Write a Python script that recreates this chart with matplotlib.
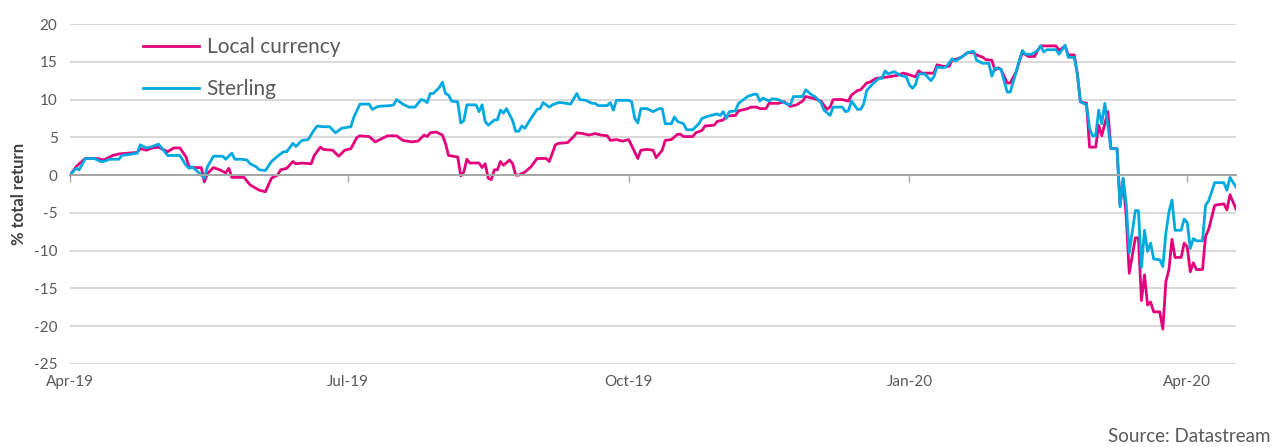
#!/usr/bin/env python3
"""
Total return, local currency vs sterling, Apr-19 to Apr-20.
"""

import matplotlib
matplotlib.use('Agg')
import matplotlib.pyplot as plt
import pandas as pd

plt.rcParams['font.family'] = ['Lato', 'DejaVu Sans']
plt.rcParams['axes.unicode_minus'] = False

# Data
local_dates = [
	'2019-04-01', '2019-04-03', '2019-04-04', '2019-04-06', '2019-04-10', '2019-04-12', '2019-04-14', '2019-04-15',
	'2019-04-17', '2019-04-20', '2019-04-23', '2019-04-24', '2019-04-26', '2019-04-28', '2019-04-30', '2019-05-02',
	'2019-05-03', '2019-05-05', '2019-05-07', '2019-05-09', '2019-05-10', '2019-05-11', '2019-05-14', '2019-05-15',
	'2019-05-16', '2019-05-18', '2019-05-20', '2019-05-22', '2019-05-23', '2019-05-24', '2019-05-26', '2019-05-28',
	'2019-05-30', '2019-06-02', '2019-06-04', '2019-06-06', '2019-06-08', '2019-06-09', '2019-06-11', '2019-06-13',
	'2019-06-14', '2019-06-16', '2019-06-19', '2019-06-20', '2019-06-22', '2019-06-23', '2019-06-26', '2019-06-28',
	'2019-06-30', '2019-07-02', '2019-07-04', '2019-07-05', '2019-07-08', '2019-07-10', '2019-07-12', '2019-07-14',
	'2019-07-17', '2019-07-19', '2019-07-22', '2019-07-24', '2019-07-26', '2019-07-27', '2019-07-28', '2019-07-30',
	'2019-08-01', '2019-08-02', '2019-08-03', '2019-08-06', '2019-08-07', '2019-08-08', '2019-08-09', '2019-08-10',
	'2019-08-13', '2019-08-14', '2019-08-15', '2019-08-16', '2019-08-17', '2019-08-18', '2019-08-19', '2019-08-20',
	'2019-08-21', '2019-08-23', '2019-08-24', '2019-08-25', '2019-08-26', '2019-08-28', '2019-08-30', '2019-09-01',
	'2019-09-04', '2019-09-05', '2019-09-07', '2019-09-08', '2019-09-11', '2019-09-13', '2019-09-14', '2019-09-16',
	'2019-09-18', '2019-09-20', '2019-09-22', '2019-09-24', '2019-09-25', '2019-09-27', '2019-09-29', '2019-10-01',
	'2019-10-02', '2019-10-04', '2019-10-05', '2019-10-07', '2019-10-09', '2019-10-10', '2019-10-12', '2019-10-13',
	'2019-10-15', '2019-10-17', '2019-10-18', '2019-10-19', '2019-10-22', '2019-10-23', '2019-10-25', '2019-10-26',
	'2019-10-29', '2019-10-30', '2019-11-01', '2019-11-02', '2019-11-05', '2019-11-06', '2019-11-09', '2019-11-10',
	'2019-11-12', '2019-11-13', '2019-11-15', '2019-11-16', '2019-11-19', '2019-11-21', '2019-11-23', '2019-11-25',
	'2019-11-27', '2019-11-28', '2019-11-30', '2019-12-01', '2019-12-03', '2019-12-05', '2019-12-06', '2019-12-07',
	'2019-12-10', '2019-12-12', '2019-12-13', '2019-12-15', '2019-12-16', '2019-12-18', '2019-12-19', '2019-12-21',
	'2019-12-23', '2019-12-25', '2019-12-28', '2019-12-30', '2019-12-31', '2020-01-03', '2020-01-04', '2020-01-05',
	'2020-01-09', '2020-01-10', '2020-01-12', '2020-01-14', '2020-01-15', '2020-01-16', '2020-01-18', '2020-01-20',
	'2020-01-22', '2020-01-23', '2020-01-25', '2020-01-26', '2020-01-28', '2020-01-29', '2020-01-30', '2020-01-31',
	'2020-02-02', '2020-02-03', '2020-02-05', '2020-02-06', '2020-02-07', '2020-02-09', '2020-02-11', '2020-02-12',
	'2020-02-13', '2020-02-15', '2020-02-18', '2020-02-19', '2020-02-21', '2020-02-22', '2020-02-24', '2020-02-25',
	'2020-02-26', '2020-02-28', '2020-02-29', '2020-03-02', '2020-03-03', '2020-03-04', '2020-03-06', '2020-03-07',
	'2020-03-09', '2020-03-10', '2020-03-11', '2020-03-12', '2020-03-13', '2020-03-15', '2020-03-16', '2020-03-17',
	'2020-03-18', '2020-03-19', '2020-03-20', '2020-03-21', '2020-03-23', '2020-03-24', '2020-03-25', '2020-03-26',
	'2020-03-27', '2020-03-28', '2020-03-30', '2020-03-31', '2020-04-01', '2020-04-02', '2020-04-03', '2020-04-04',
	'2020-04-06', '2020-04-07', '2020-04-08', '2020-04-10', '2020-04-13', '2020-04-14', '2020-04-15', '2020-04-17',
]
local_values = [
	0.0, 1.1, 1.5, 2.2, 2.2, 2.0, 2.4, 2.6,
	2.8, 2.9, 3.0, 3.5, 3.3, 3.6, 3.7, 3.3,
	3.1, 3.6, 3.6, 2.4, 1.1, 1.0, 1.0, -0.9,
	0.2, 1.0, 0.7, 0.3, 0.9, -0.3, -0.3, -0.3,
	-1.3, -2.0, -2.2, -0.4, 0.0, 0.7, 0.9, 1.8,
	1.5, 1.6, 1.5, 2.6, 3.7, 3.4, 3.3, 2.5,
	3.3, 3.5, 5.0, 5.2, 5.1, 4.4, 4.8, 5.2,
	5.2, 4.6, 4.4, 4.5, 5.3, 5.1, 5.6, 5.7,
	5.3, 4.2, 2.6, 2.4, -0.1, 0.4, 2.1, 1.6,
	1.6, 1.0, 1.5, -0.4, -0.6, 0.7, 0.7, 1.8,
	1.3, 2.0, 1.5, 0.0, 0.0, 0.4, 1.1, 2.2,
	2.2, 1.8, 4.0, 4.2, 4.3, 5.1, 5.6, 5.5,
	5.3, 5.5, 5.3, 5.2, 4.6, 4.7, 4.5, 4.7,
	3.9, 2.2, 3.3, 3.4, 3.3, 2.3, 3.3, 4.6,
	4.7, 5.4, 5.4, 5.1, 5.1, 5.6, 5.9, 6.5,
	6.6, 7.1, 7.3, 7.8, 7.9, 8.5, 8.8, 9.0,
	9.0, 8.8, 8.8, 9.5, 9.5, 9.7, 9.1, 9.3,
	9.8, 10.4, 10.2, 10.1, 9.8, 8.7, 9.0, 10.0,
	10.0, 9.8, 10.6, 11.2, 11.3, 12.2, 12.3, 12.8,
	12.9, 13.0, 13.2, 13.5, 13.4, 13.0, 13.8, 13.5,
	13.5, 14.6, 14.4, 14.4, 15.3, 15.3, 15.6, 16.2,
	16.2, 15.9, 15.6, 15.3, 15.2, 13.9, 14.2, 14.0,
	12.2, 12.2, 13.7, 15.1, 16.2, 15.7, 15.7, 16.5,
	17.1, 17.1, 17.1, 16.5, 17.1, 15.9, 15.9, 13.4,
	9.7, 9.5, 3.7, 3.7, 6.6, 5.2, 8.4, 3.5,
	3.5, -4.0, -0.6, -5.5, -13.0, -8.3, -8.3, -16.6,
	-13.2, -17.2, -16.8, -18.1, -18.1, -20.4, -14.1, -12.5,
	-8.5, -10.9, -10.9, -9.0, -9.5, -12.8, -11.6, -12.5,
	-12.5, -8.1, -7.2, -4.0, -3.8, -4.6, -2.6, -4.5,
]

sterling_dates = [
	'2019-04-01', '2019-04-03', '2019-04-04', '2019-04-06', '2019-04-09', '2019-04-11', '2019-04-12', '2019-04-14',
	'2019-04-17', '2019-04-18', '2019-04-23', '2019-04-24', '2019-04-26', '2019-04-28', '2019-04-30', '2019-05-03',
	'2019-05-05', '2019-05-07', '2019-05-09', '2019-05-10', '2019-05-11', '2019-05-13', '2019-05-15', '2019-05-16',
	'2019-05-18', '2019-05-21', '2019-05-22', '2019-05-24', '2019-05-25', '2019-05-27', '2019-05-29', '2019-05-30',
	'2019-06-01', '2019-06-02', '2019-06-04', '2019-06-06', '2019-06-08', '2019-06-10', '2019-06-11', '2019-06-13',
	'2019-06-14', '2019-06-16', '2019-06-18', '2019-06-20', '2019-06-21', '2019-06-23', '2019-06-25', '2019-06-27',
	'2019-06-29', '2019-07-02', '2019-07-03', '2019-07-05', '2019-07-08', '2019-07-09', '2019-07-11', '2019-07-15',
	'2019-07-16', '2019-07-17', '2019-07-19', '2019-07-21', '2019-07-23', '2019-07-25', '2019-07-26', '2019-07-27',
	'2019-07-28', '2019-07-29', '2019-07-31', '2019-08-01', '2019-08-02', '2019-08-03', '2019-08-04', '2019-08-06',
	'2019-08-07', '2019-08-08', '2019-08-09', '2019-08-12', '2019-08-13', '2019-08-14', '2019-08-15', '2019-08-16',
	'2019-08-18', '2019-08-19', '2019-08-20', '2019-08-21', '2019-08-22', '2019-08-24', '2019-08-25', '2019-08-26',
	'2019-08-27', '2019-08-28', '2019-08-30', '2019-09-01', '2019-09-02', '2019-09-03', '2019-09-05', '2019-09-06',
	'2019-09-08', '2019-09-09', '2019-09-12', '2019-09-13', '2019-09-14', '2019-09-15', '2019-09-17', '2019-09-19',
	'2019-09-20', '2019-09-21', '2019-09-24', '2019-09-25', '2019-09-26', '2019-09-27', '2019-10-01', '2019-10-02',
	'2019-10-03', '2019-10-04', '2019-10-05', '2019-10-07', '2019-10-09', '2019-10-11', '2019-10-12', '2019-10-13',
	'2019-10-15', '2019-10-16', '2019-10-17', '2019-10-19', '2019-10-20', '2019-10-22', '2019-10-24', '2019-10-25',
	'2019-10-27', '2019-10-30', '2019-10-31', '2019-11-01', '2019-11-02', '2019-11-03', '2019-11-05', '2019-11-06',
	'2019-11-09', '2019-11-11', '2019-11-12', '2019-11-13', '2019-11-14', '2019-11-16', '2019-11-17', '2019-11-19',
	'2019-11-20', '2019-11-22', '2019-11-23', '2019-11-24', '2019-11-27', '2019-11-28', '2019-11-30', '2019-12-01',
	'2019-12-03', '2019-12-04', '2019-12-06', '2019-12-07', '2019-12-10', '2019-12-11', '2019-12-12', '2019-12-13',
	'2019-12-15', '2019-12-16', '2019-12-17', '2019-12-18', '2019-12-20', '2019-12-22', '2019-12-23', '2019-12-24',
	'2019-12-25', '2019-12-27', '2019-12-29', '2019-12-31', '2020-01-01', '2020-01-02', '2020-01-03', '2020-01-04',
	'2020-01-06', '2020-01-08', '2020-01-09', '2020-01-10', '2020-01-12', '2020-01-13', '2020-01-15', '2020-01-16',
	'2020-01-18', '2020-01-20', '2020-01-22', '2020-01-23', '2020-01-25', '2020-01-27', '2020-01-28', '2020-01-29',
	'2020-01-31', '2020-02-02', '2020-02-03', '2020-02-05', '2020-02-06', '2020-02-07', '2020-02-08', '2020-02-10',
	'2020-02-12', '2020-02-13', '2020-02-14', '2020-02-15', '2020-02-18', '2020-02-19', '2020-02-21', '2020-02-22',
	'2020-02-24', '2020-02-25', '2020-02-26', '2020-02-28', '2020-02-29', '2020-03-01', '2020-03-02', '2020-03-03',
	'2020-03-04', '2020-03-05', '2020-03-07', '2020-03-09', '2020-03-10', '2020-03-11', '2020-03-12', '2020-03-13',
	'2020-03-15', '2020-03-16', '2020-03-17', '2020-03-18', '2020-03-19', '2020-03-20', '2020-03-21', '2020-03-23',
	'2020-03-24', '2020-03-25', '2020-03-26', '2020-03-27', '2020-03-28', '2020-03-30', '2020-03-31', '2020-04-01',
	'2020-04-02', '2020-04-03', '2020-04-04', '2020-04-06', '2020-04-07', '2020-04-08', '2020-04-10', '2020-04-13',
	'2020-04-14', '2020-04-15', '2020-04-17',
]
sterling_values = [
	0.0, 0.9, 0.7, 2.2, 2.2, 1.8, 1.8, 2.1,
	2.1, 2.6, 2.9, 4.0, 3.6, 3.8, 4.1, 2.6,
	2.6, 2.6, 1.3, 0.9, 1.1, 0.4, -0.4, 1.1,
	2.5, 2.5, 2.1, 2.9, 2.1, 2.1, 2.0, 1.5,
	1.1, 0.7, 0.6, 1.8, 2.5, 3.1, 3.1, 4.2,
	3.8, 4.6, 4.7, 6.0, 6.5, 6.4, 6.4, 5.6,
	6.2, 6.4, 7.7, 9.4, 9.4, 8.7, 9.1, 9.2,
	9.3, 10.0, 9.4, 9.0, 9.0, 10.0, 9.9, 9.6,
	10.8, 10.8, 11.6, 12.3, 10.8, 10.6, 9.8, 9.7,
	6.9, 7.2, 9.3, 9.3, 8.4, 9.3, 7.1, 6.6,
	7.3, 7.3, 8.6, 8.2, 8.8, 7.2, 5.8, 5.8,
	6.5, 6.2, 7.5, 8.7, 8.8, 9.6, 9.0, 9.3,
	9.6, 9.6, 9.4, 10.1, 10.8, 10.0, 9.9, 9.5,
	9.5, 9.2, 9.2, 9.6, 8.6, 9.9, 9.9, 9.7,
	7.5, 6.9, 8.8, 8.8, 8.4, 8.8, 8.8, 6.8,
	6.8, 7.7, 7.1, 6.8, 6.0, 6.0, 6.8, 7.5,
	7.8, 8.1, 7.9, 8.4, 7.5, 8.4, 8.5, 9.5,
	10.4, 10.7, 10.7, 9.8, 10.2, 9.8, 10.1, 10.0,
	9.8, 9.4, 9.3, 10.4, 10.4, 11.3, 10.6, 10.4,
	9.6, 8.6, 7.9, 9.0, 9.0, 8.4, 8.5, 9.8,
	8.7, 8.7, 9.4, 11.2, 12.1, 12.8, 12.8, 13.8,
	13.4, 13.7, 13.2, 13.0, 11.9, 11.5, 12.0, 13.4,
	13.4, 12.5, 13.0, 14.3, 14.2, 14.3, 15.4, 15.1,
	15.6, 16.2, 16.4, 15.2, 14.8, 14.8, 13.1, 14.2,
	14.0, 11.0, 11.0, 13.7, 15.2, 16.5, 16.0, 16.0,
	16.5, 17.1, 16.3, 16.6, 16.6, 16.0, 17.2, 15.6,
	15.6, 13.4, 9.7, 9.3, 6.2, 5.2, 5.2, 8.6,
	6.8, 9.5, 3.5, 3.5, -4.2, -0.4, -3.8, -10.3,
	-4.7, -4.7, -12.2, -7.3, -10.1, -9.0, -11.1, -11.2,
	-12.1, -7.7, -4.9, -3.3, -7.3, -7.3, -5.8, -6.3,
	-9.7, -8.4, -8.7, -8.7, -4.0, -3.4, -1.0, -1.0,
	-2.0, -0.3, -1.6,
]

tick_dates = ['2019-04-01', '2019-07-01', '2019-10-01', '2020-01-01', '2020-04-01']
tick_labels = ['Apr-19', 'Jul-19', 'Oct-19', 'Jan-20', 'Apr-20']

PINK = '#e4007c'
BLUE = '#00a9e0'
TEXT = '#595959'


def main():
	fig = plt.figure(figsize=(12.78, 4.47), dpi=100)
	ax = fig.add_axes([0.0548, 0.1857, 0.9124, 0.7606])

	ax.plot(pd.to_datetime(local_dates), local_values, color=PINK, lw=2.0, label='Local currency')
	ax.plot(pd.to_datetime(sterling_dates), sterling_values, color=BLUE, lw=2.0, label='Sterling')

	ax.set_xlim(pd.Timestamp('2019-04-01'), pd.Timestamp('2020-04-17'))
	ax.set_ylim(-25, 20)
	ax.set_yticks(range(-25, 21, 5))
	ax.yaxis.grid(True, color='#d9d9d9', lw=1.4)
	ax.set_axisbelow(True)

	for s in ['top', 'right', 'left']:
		ax.spines[s].set_visible(False)
	ax.spines['bottom'].set_position(('data', 0))
	ax.spines['bottom'].set_color('#a6a6a6')
	ax.spines['bottom'].set_linewidth(1.4)

	ticks = pd.to_datetime(tick_dates)
	ax.set_xticks(ticks)
	ax.tick_params(axis='x', direction='out', length=5, width=1, color='#a6a6a6', labelbottom=False)
	ax.tick_params(axis='y', length=0, pad=9, labelsize=11, labelcolor=TEXT)

	sec = ax.secondary_xaxis('bottom')
	sec.set_xticks(ticks)
	sec.set_xticklabels(tick_labels)
	sec.tick_params(length=0, pad=8, labelsize=11, labelcolor=TEXT)
	sec.spines['bottom'].set_visible(False)

	ax.set_ylabel('% total return', fontsize=12, fontweight='bold', color='#404040')
	ax.yaxis.set_label_coords(-0.037, 0.5)

	ax.legend(loc='upper left', bbox_to_anchor=(0.0626, 0.962), frameon=False, fontsize=15,
		handlelength=2.7, handletextpad=0.35, labelspacing=1.07, borderpad=0, borderaxespad=0,
		labelcolor=TEXT)

	fig.text(1270 / 1278, 1 - 437 / 447, 'Source: Datastream', ha='right', va='center',
		fontsize=13.5, color=TEXT)

	fig.savefig('out.png', dpi=100)


if __name__ == '__main__':
	main()
